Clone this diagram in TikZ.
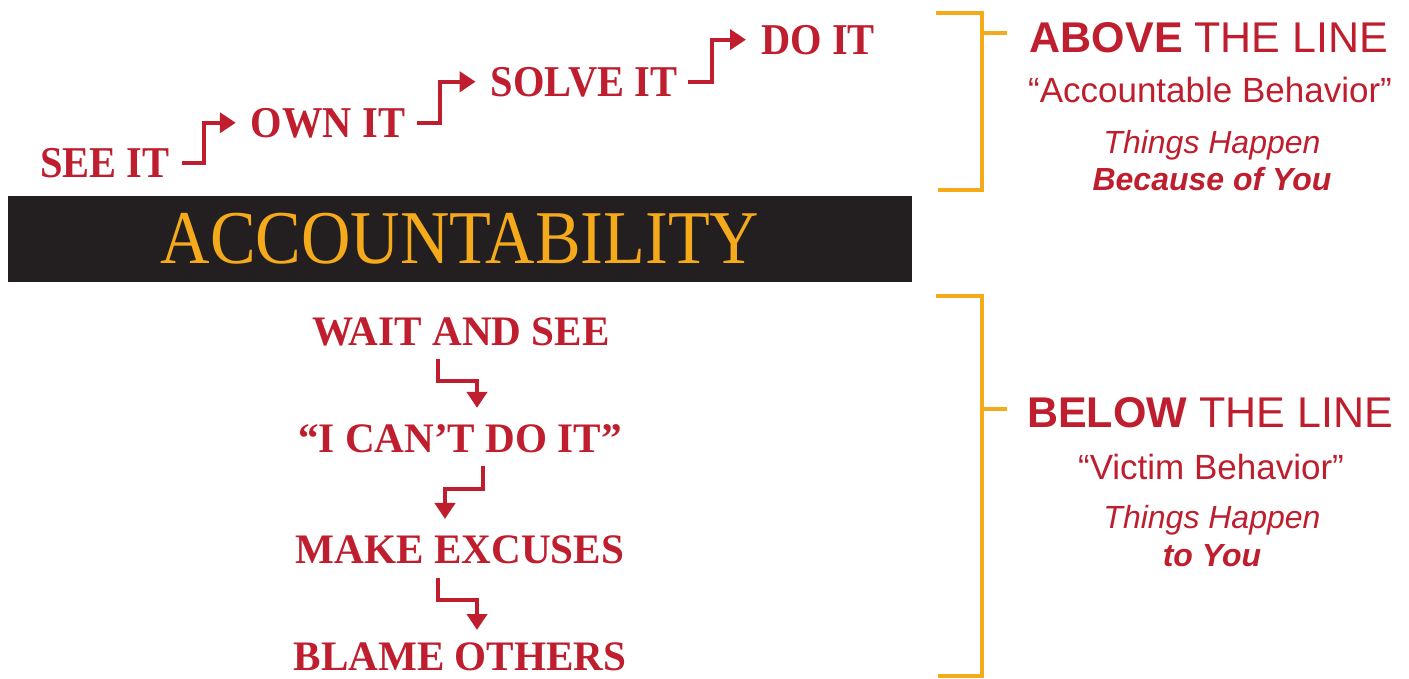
\documentclass[tikz,border=0pt]{standalone}
\usepackage{fontspec}
\setmainfont{Liberation Sans}
\newfontfamily\stepfont[FakeStretch=0.92]{Liberation Serif}
\newfontfamily\lowfont[FakeStretch=0.98]{Liberation Serif}
\newfontfamily\barfont[FakeStretch=0.9]{Liberation Serif}
\usetikzlibrary{arrows.meta}
\definecolor{acred}{HTML}{BE1E2D}
\definecolor{acgold}{HTML}{F4AA1B}
\definecolor{acdark}{HTML}{231F20}

\begin{document}
\begin{tikzpicture}[x=1pt,y=-1pt]
    % Define the styles for the steps, arrows and brackets
    \tikzstyle{upstep}=[anchor=base, inner sep=0pt, text=acred, font=\stepfont\bfseries\fontsize{44}{44}\selectfont]
    \tikzstyle{downstep}=[anchor=base, inner sep=0pt, text=acred, font=\lowfont\bfseries\fontsize{42}{42}\selectfont]
    \tikzstyle{bar}=[rectangle, fill=acdark, minimum width=904pt, minimum height=86pt, inner sep=0pt, text=acgold, font=\barfont\fontsize{76}{76}\selectfont]
    \tikzstyle{heading}=[anchor=base, inner sep=0pt, text=acred, font=\fontsize{43}{43}\selectfont]
    \tikzstyle{quote}=[anchor=base, inner sep=0pt, text=acred, font=\fontsize{35}{35}\selectfont]
    \tikzstyle{happen}=[anchor=base, inner sep=0pt, text=acred, font=\itshape\fontsize{32}{32}\selectfont]
    \tikzstyle{stepline}=[line width=4pt, acred, -{Triangle[length=16pt,width=20pt]}]
    \tikzstyle{bracket}=[line width=4pt, acgold]

    \useasboundingbox (0,0) rectangle (1409,678);

    % The bar across the middle
    \node[bar] (title) at (460,239) {ACCOUNTABILITY};

    % Steps above the line
    \node[upstep] (see) at (105,177) {SEE IT};
    \node[upstep] (own) at (328,137) {OWN IT};
    \node[upstep] (solve) at (584,96) {SOLVE IT};
    \node[upstep] (doit) at (818,54) {DO IT};

    % Steps below the line
    \node[downstep] (wait) at (461,345) {WAIT AND SEE};
    \node[downstep] (cant) at (460,452) {“I CAN’T DO IT”};
    \node[downstep] (excuses) at (460,563) {MAKE EXCUSES};
    \node[downstep] (blame) at (460,670) {BLAME OTHERS};

    % Arrows going up the steps
    \draw[stepline] ([xshift=12pt]see.east) -- ++(22,0) |- ([xshift=-15pt]own.west);
    \draw[stepline] ([xshift=12pt]own.east) -- ++(23,0) |- ([xshift=-15pt]solve.west);
    \draw[stepline] ([xshift=11pt]solve.east) -- ++(24,0) |- ([xshift=-15pt]doit.west);

    % Arrows going down the steps
    \draw[stepline] ([xshift=-23pt,yshift=-13pt]wait.south) -- ++(0,22) -| ([xshift=17pt,yshift=16pt]cant.north);
    \draw[stepline] ([xshift=23pt,yshift=-13pt]cant.south) -- ++(0,23) -| ([xshift=-15pt,yshift=16pt]excuses.north);
    \draw[stepline] ([xshift=-22pt,yshift=-14pt]excuses.south) -- ++(0,22) -| ([xshift=17pt,yshift=12pt]blame.north);

    % Brackets on the right
    \draw[bracket] (936,13) -| (982,190) -- (938,190);
    \draw[bracket] (982,33) -- (1007,33);
    \draw[bracket] (936,296) -| (982,676) -- (938,676);
    \draw[bracket] (982,409) -- (1007,409);

    % Labels for the two halves
    \node[heading] (above) at (1209,52) {\textbf{ABOVE} THE LINE};
    \node[quote] (abovequote) at (1210,102) {“Accountable Behavior”};
    \node[happen] (abovehappen) at (1212,153) {Things Happen};
    \node[happen] (aboveyou) at (1212,190) {\bfseries Because of You};

    \node[heading] (below) at (1210,427) {\textbf{BELOW} THE LINE};
    \node[quote] (belowquote) at (1211,479) {“Victim Behavior”};
    \node[happen] (belowhappen) at (1212,528) {Things Happen};
    \node[happen] (belowyou) at (1212,566) {\bfseries to You};
\end{tikzpicture}
\end{document}
